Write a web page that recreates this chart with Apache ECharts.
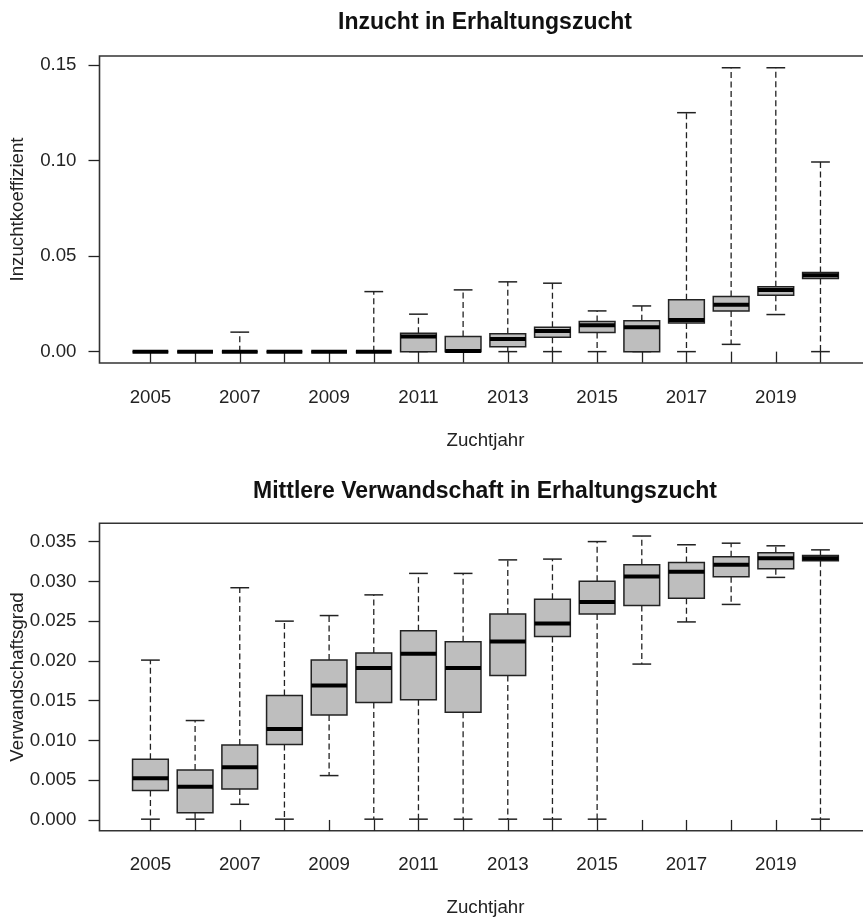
<!DOCTYPE html>
<html><head><meta charset="utf-8">
<script src="https://cdn.jsdelivr.net/npm/echarts@6/dist/echarts.min.js"></script>
<style>html,body{margin:0;padding:0;background:#fff}#c{width:863px;height:921px}</style>
</head><body><div id="c"></div>
<script>
// ---- data ----
const years = [2005,2006,2007,2008,2009,2010,2011,2012,2013,2014,2015,2016,2017,2018,2019,2020];
const yearLabels = [2005,2007,2009,2011,2013,2015,2017,2019];

// Inzuchtkoeffizient
const inzMin = [0,0,0,0,0,0,0,0,0,0,0,0,0,0.0038,0.0194,0];
const inzQ1  = [0,0,0,0,0,0,0,0,0.0026,0.0075,0.0100,0,0.0150,0.0213,0.0295,0.0382];
const inzMed = [0,0,0,0,0,0,0.0079,0.0003,0.0066,0.0108,0.0138,0.0128,0.0166,0.0245,0.0323,0.0400];
const inzQ3  = [0,0,0,0,0,0,0.0096,0.0079,0.0094,0.0128,0.0157,0.0162,0.0271,0.0288,0.0340,0.0414];
const inzMax = [0,0,0.0102,0,0,0.0314,0.0196,0.0323,0.0365,0.0358,0.0213,0.0239,0.1250,0.1485,0.1485,0.0992];
const inzTicks = [0,0.05,0.10,0.15];

// Verwandschaftsgrad
const verMin = [0.0001,0.0001,0.00197,0.0001,0.00558,0.0001,0.0001,0.0001,0.0001,0.0001,0.0001,0.0196,0.0249,0.0271,0.0305,0.0001];
const verQ1  = [0.00369,0.00092,0.0039,0.00948,0.0132,0.01476,0.0151,0.01354,0.01816,0.02306,0.0259,0.02696,0.02788,0.03057,0.0316,0.03258];
const verMed = [0.00524,0.00419,0.00663,0.01145,0.0169,0.0191,0.0209,0.0191,0.02243,0.0247,0.0274,0.0306,0.0312,0.0321,0.0329,0.0329];
const verQ3  = [0.00763,0.00629,0.00943,0.01564,0.0201,0.0210,0.0238,0.0224,0.0259,0.02776,0.0300,0.0321,0.03237,0.0331,0.0336,0.03325];
const verMax = [0.0201,0.0125,0.0292,0.0250,0.0257,0.0283,0.0310,0.0310,0.0327,0.0328,0.0350,0.0357,0.0346,0.0348,0.03447,0.03396];
const verTicks = [0,0.005,0.010,0.015,0.020,0.025,0.030,0.035];

// ---- chart ----
const FONT = 'Liberation Sans, Arial, sans-serif';
const chart = echarts.init(document.getElementById('c'), null, {renderer:'canvas'});

function rows(mn,q1,md,q3,mx){ return years.map((y,i)=>[y,mn[i],q1[i],md[i],q3[i],mx[i]]); }

function renderBox(params, api){
  const x = api.value(0);
  const pMin = api.coord([x, api.value(1)]);
  const pQ1  = api.coord([x, api.value(2)]);
  const pMed = api.coord([x, api.value(3)]);
  const pQ3  = api.coord([x, api.value(4)]);
  const pMax = api.coord([x, api.value(5)]);
  const bw = api.size([0.8, 0])[0];
  const cw = api.size([0.42, 0])[0];
  const cx = pMed[0];
  const dash = {stroke:'#222', lineWidth:1.3, lineDash:[6,3.5]};
  const solid = {stroke:'#222', lineWidth:1.5};
  return {type:'group', children:[
    {type:'line', shape:{x1:cx,y1:pQ3[1],x2:cx,y2:pMax[1]}, style:dash},
    {type:'line', shape:{x1:cx,y1:pQ1[1],x2:cx,y2:pMin[1]}, style:dash},
    {type:'line', shape:{x1:cx-cw/2,y1:pMax[1],x2:cx+cw/2,y2:pMax[1]}, style:solid},
    {type:'line', shape:{x1:cx-cw/2,y1:pMin[1],x2:cx+cw/2,y2:pMin[1]}, style:solid},
    {type:'rect', shape:{x:cx-bw/2,y:pQ3[1],width:bw,height:pQ1[1]-pQ3[1]}, style:{fill:'#bebebe',stroke:'#222',lineWidth:1.5}},
    {type:'line', shape:{x1:cx-bw/2,y1:pMed[1],x2:cx+bw/2,y2:pMed[1]}, style:{stroke:'#000',lineWidth:4}}
  ]};
}

function xAxis(gi){
  return {
    type:'value', gridIndex:gi, min:2003.86, max:2021.14,
    name:'Zuchtjahr', nameLocation:'middle', nameGap:68, nameMoveOverlap:false,
    nameTextStyle:{fontFamily:FONT, fontSize:18.7, color:'#222'},
    axisLine:{show:false}, splitLine:{show:false},
    axisTick:{show:true, length:11, customValues:years, lineStyle:{color:'#222', width:1.3}},
    axisLabel:{customValues:yearLabels, margin:25, fontFamily:FONT, fontSize:18.7, color:'#222', formatter:v=>String(Math.round(v))}
  };
}
function yAxis(gi,min,max,ticks,dec,name){
  return {
    type:'value', gridIndex:gi, min:min, max:max,
    name:name, nameLocation:'middle', nameGap:72, nameMoveOverlap:false,
    nameTextStyle:{fontFamily:FONT, fontSize:18.7, color:'#222'},
    axisLine:{show:false}, splitLine:{show:false},
    axisTick:{show:true, length:11, customValues:ticks, lineStyle:{color:'#222', width:1.3}},
    axisLabel:{customValues:ticks, margin:23, fontFamily:FONT, fontSize:18.7, color:'#222', formatter:v=>v.toFixed(dec)}
  };
}

chart.setOption({
  animation:false,
  backgroundColor:'#fff',
  graphic:[
    {type:'text', x:485, y:23, style:{text:'Inzucht in Erhaltungszucht', font:'bold 23px '+FONT, fill:'#111', textAlign:'center', textVerticalAlign:'middle'}},
    {type:'text', x:485, y:492, style:{text:'Mittlere Verwandschaft in Erhaltungszucht', font:'bold 23px '+FONT, fill:'#111', textAlign:'center', textVerticalAlign:'middle'}}
  ],
  grid:[
    {left:99.5, right:-8.4, top:56, height:307, show:true, borderColor:'#333', borderWidth:1.6, backgroundColor:'transparent', containLabel:false, outerBoundsMode:'none'},
    {left:99.5, right:-8.4, top:523.3, height:307.4, show:true, borderColor:'#333', borderWidth:1.6, backgroundColor:'transparent', containLabel:false, outerBoundsMode:'none'}
  ],
  xAxis:[xAxis(0), xAxis(1)],
  yAxis:[
    yAxis(0,-0.00595,0.15465,inzTicks,2,'Inzuchtkoeffizient'),
    yAxis(1,-0.00135,0.0373,verTicks,3,'Verwandschaftsgrad')
  ],
  series:[
    {type:'custom', xAxisIndex:0, yAxisIndex:0, renderItem:renderBox, data:rows(inzMin,inzQ1,inzMed,inzQ3,inzMax), encode:{x:0,y:[1,2,3,4,5]}, clip:false},
    {type:'custom', xAxisIndex:1, yAxisIndex:1, renderItem:renderBox, data:rows(verMin,verQ1,verMed,verQ3,verMax), encode:{x:0,y:[1,2,3,4,5]}, clip:false}
  ]
});
</script>
</body></html>
